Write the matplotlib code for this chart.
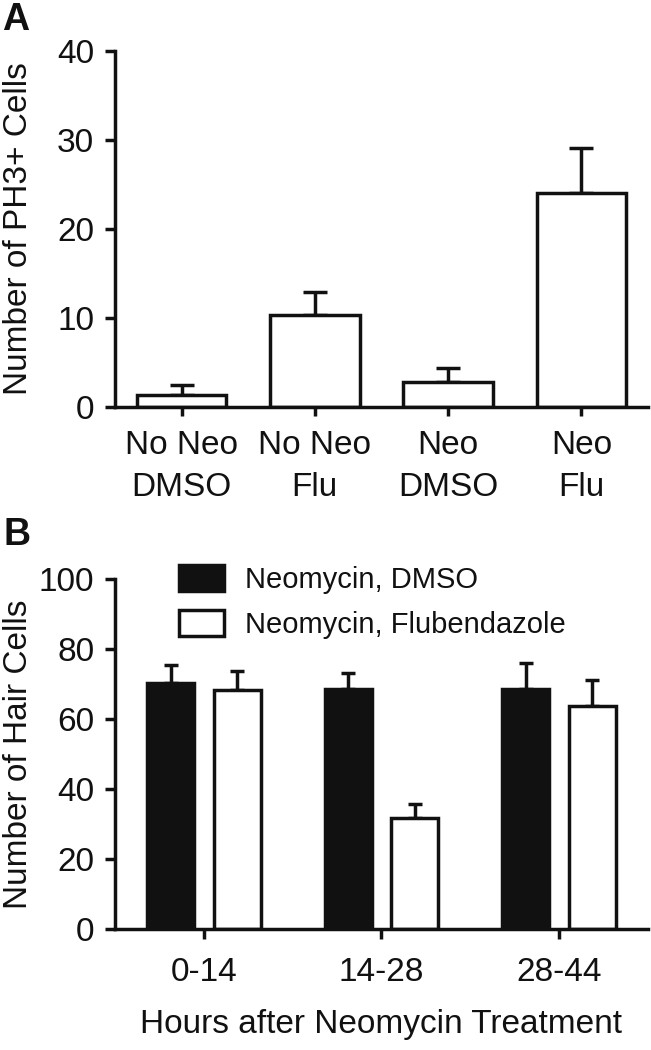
import matplotlib
matplotlib.use('Agg')
import matplotlib.pyplot as plt
import numpy as np

plt.rcParams['font.family'] = ['Liberation Sans', 'DejaVu Sans']
plt.rcParams['text.color'] = '#111111'
plt.rcParams['axes.labelcolor'] = '#111111'
plt.rcParams['xtick.color'] = '#111111'
plt.rcParams['ytick.color'] = '#111111'

# panel A: PH3+ cells
a_labels = ['No Neo\nDMSO', 'No Neo\nFlu', 'Neo\nDMSO', 'Neo\nFlu']
a_means = [1.3, 10.3, 2.8, 24.0]
a_err = [1.2, 2.6, 1.6, 5.1]

# panel B: hair cells
b_groups = ['0-14', '14-28', '28-44']
b_dmso = [70.3, 68.6, 68.6]
b_dmso_err = [5.1, 4.5, 7.4]
b_flu = [68.3, 31.7, 63.7]
b_flu_err = [5.4, 4.0, 7.4]

LW = 2.5
FS = 24
INK = '#111111'

fig = plt.figure(figsize=(6.51, 10.5), dpi=100)
axA = fig.add_axes([115 / 651, 1 - 407 / 1050, 533 / 651, 356 / 1050])
axB = fig.add_axes([115 / 651, 1 - 929 / 1050, 533 / 651, 350 / 1050])


def style_axes(ax):
    for side in ['top', 'right']:
        ax.spines[side].set_visible(False)
    for side in ['left', 'bottom']:
        ax.spines[side].set_linewidth(LW)
        ax.spines[side].set_color(INK)
        ax.spines[side].set_capstyle('projecting')
    ax.tick_params(axis='both', width=LW, labelsize=FS, direction='out')
    ax.tick_params(axis='y', length=7, pad=8)


# ---- A ----
style_axes(axA)
xa = np.arange(len(a_labels))
axA.errorbar(xa, a_means, yerr=[np.zeros(len(a_err)), a_err], fmt='none',
             ecolor=INK, elinewidth=LW, capsize=8.5, capthick=LW, zorder=1)
axA.bar(xa, a_means, width=0.67, color='white', edgecolor=INK,
        linewidth=LW, zorder=2)
axA.set_xlim(-0.5, 3.5)
axA.set_ylim(0, 40)
axA.set_yticks([0, 10, 20, 30, 40])
axA.set_xticks(xa)
axA.set_xticklabels(a_labels, linespacing=1.45)
axA.tick_params(axis='x', length=6.5, pad=10)
axA.set_ylabel('Number of PH3+ Cells', fontsize=FS)
axA.yaxis.set_label_coords(-0.152, 0.5)

# ---- B ----
style_axes(axB)
xb = np.arange(len(b_groups))
off = 0.187
bw = 0.265
axB.errorbar(xb - off, b_dmso, yerr=[np.zeros(3), b_dmso_err], fmt='none',
             ecolor=INK, elinewidth=LW, capsize=5, capthick=LW, zorder=1)
axB.errorbar(xb + off, b_flu, yerr=[np.zeros(3), b_flu_err], fmt='none',
             ecolor=INK, elinewidth=LW, capsize=5, capthick=LW, zorder=1)
axB.bar(xb - off, b_dmso, width=bw, color=INK, edgecolor=INK,
        linewidth=LW, zorder=2, label='Neomycin, DMSO')
axB.bar(xb + off, b_flu, width=bw, color='white', edgecolor=INK,
        linewidth=LW, zorder=2, label='Neomycin, Flubendazole')
axB.set_xlim(-0.5, 2.5)
axB.set_ylim(0, 100)
axB.set_yticks([0, 20, 40, 60, 80, 100])
axB.set_xticks(xb)
axB.set_xticklabels(b_groups)
axB.tick_params(axis='x', length=7, pad=13)
axB.set_ylabel('Number of Hair Cells', fontsize=FS)
axB.yaxis.set_label_coords(-0.152, 0.5)
axB.set_xlabel('Hours after Neomycin Treatment', fontsize=FS)
axB.xaxis.set_label_coords(0.5, -0.228)
axB.legend(loc='upper left', bbox_to_anchor=(0.12, 1.04), frameon=False,
           fontsize=21, handlelength=1.55, handleheight=1.0,
           handletextpad=0.7, labelspacing=0.55, borderpad=0,
           borderaxespad=0)

fig.text(2 / 651, 1 - 30 / 1050, 'A', fontsize=27, fontweight='bold',
         va='baseline', ha='left')
fig.text(4 / 651, 1 - 545 / 1050, 'B', fontsize=27, fontweight='bold',
         va='baseline', ha='left')

fig.savefig('out.png', dpi=100, facecolor='white')
